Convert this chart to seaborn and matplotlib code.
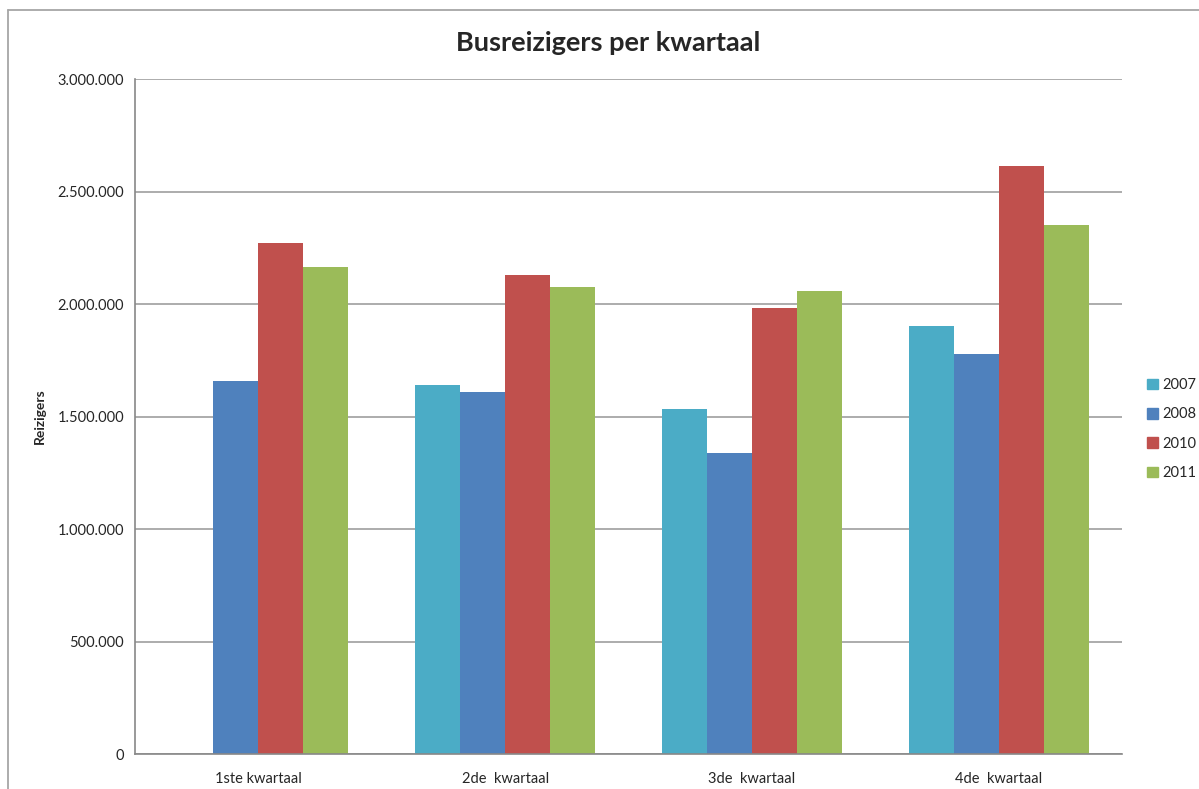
import numpy as np
import pandas as pd
import matplotlib
matplotlib.use('Agg')
import matplotlib.pyplot as plt
import seaborn as sns
from matplotlib.ticker import FuncFormatter, MultipleLocator
from matplotlib.lines import Line2D

# data
quarters = ['1ste kwartaal', '2de  kwartaal', '3de  kwartaal', '4de  kwartaal']
years = ['2007', '2008', '2010', '2011']
v2007 = [np.nan, 1640000, 1534000, 1904000]
v2008 = [1659000, 1610000, 1337000, 1779000]
v2010 = [2271000, 2128000, 1982000, 2616000]
v2011 = [2165000, 2078000, 2057000, 2352000]
colors = ['#4BACC6', '#4F81BD', '#C0504D', '#9BBB59']

rows = []
for year, vals in zip(years, [v2007, v2008, v2010, v2011]):
    for q, v in zip(quarters, vals):
        rows.append({'kwartaal': q, 'jaar': year, 'reizigers': v})
df = pd.DataFrame(rows)

sns.set_style('white')
plt.rcParams['font.family'] = ['Lato', 'DejaVu Sans']
GRID = '#a6a6a6'

fig = plt.figure(figsize=(11.99, 7.89), dpi=100)
ax = fig.add_axes([135 / 1199, 1 - 754.2 / 789, 987 / 1199, 675 / 789])

sns.barplot(data=df, x='kwartaal', y='reizigers', hue='jaar', order=quarters,
            hue_order=years, palette=colors, saturation=1, width=0.73, gap=0,
            edgecolor='none', errorbar=None, legend=False, ax=ax)

ax.set_ylim(0, 3000000)
ax.yaxis.set_major_locator(MultipleLocator(500000))
ax.yaxis.set_major_formatter(FuncFormatter(lambda v, p: f'{int(v):,}'.replace(',', '.')))
ax.grid(axis='y', color=GRID, linewidth=1.3)
ax.set_axisbelow(True)
for s in ['top', 'right']:
    ax.spines[s].set_visible(False)
for s in ['left', 'bottom']:
    ax.spines[s].set_color('#888888')
    ax.spines[s].set_linewidth(1.2)
ax.tick_params(axis='y', length=4, color='#888888', labelsize=10.5, pad=4)
ax.tick_params(axis='x', length=0, labelsize=10.5, pad=13)
ax.set_xlabel('')
ax.set_ylabel('')

fig.text(608 / 1199, 1 - 43 / 789, 'Busreizigers per kwartaal', ha='center', va='center',
         fontsize=19.5, fontweight='bold')
fig.text(40 / 1199, 1 - 416 / 789, 'Reizigers', rotation=90, ha='center', va='center',
         fontsize=10, fontweight='bold')

handles = [plt.Rectangle((0, 0), 1, 1, color=c) for c in colors]
fig.legend(handles, years, loc='center left', frameon=False,
           bbox_to_anchor=(1147 / 1199, 1 - 429 / 789), fontsize=10.5,
           borderaxespad=0, borderpad=0,
           handlelength=0.75, handleheight=0.75, handletextpad=0.3, labelspacing=1.05)

# outer chart frame (cropped at right and bottom)
fig.add_artist(Line2D([8 / 1199, 8 / 1199], [0, 1 - 10 / 789], color=GRID, lw=1.3))
fig.add_artist(Line2D([8 / 1199, 1], [1 - 10 / 789, 1 - 10 / 789], color=GRID, lw=1.3))

fig.savefig('out.png', dpi=100)
